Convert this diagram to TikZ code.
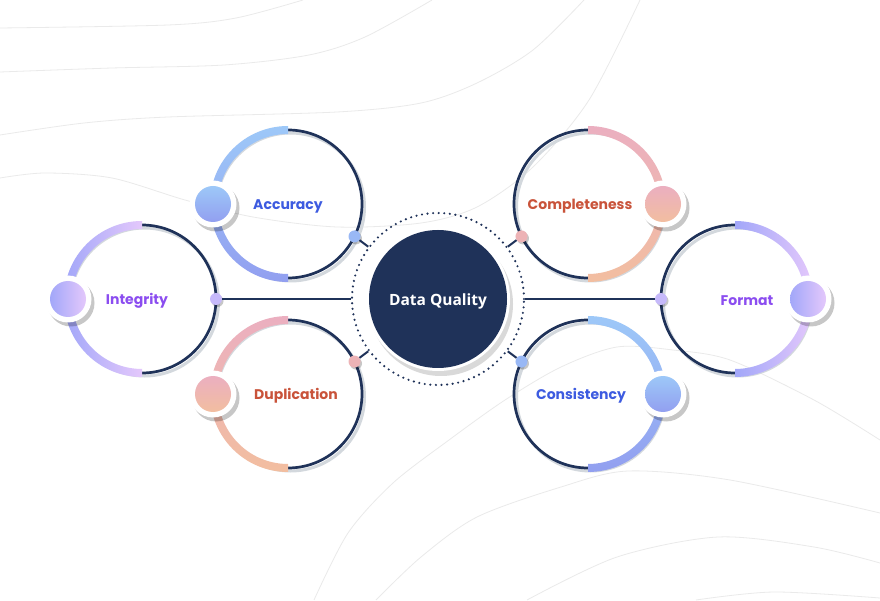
\documentclass[tikz,border=0pt]{standalone}
\usepackage{fontspec}
\newfontfamily\petalfont{Poppins}
\newfontfamily\hubfont{Open Sans}
\usepackage{tikz}
\usetikzlibrary{positioning,calc,shadows}

\definecolor{navy}{HTML}{1F3259}
\definecolor{ringgray}{HTML}{D3D8DD}
\definecolor{bgline}{HTML}{EAEAEA}
\definecolor{skyA}{HTML}{9DC8F8}
\definecolor{skyB}{HTML}{929FF0}
\definecolor{roseA}{HTML}{EBAFC0}
\definecolor{roseB}{HTML}{F2BEA0}
\definecolor{lilacA}{HTML}{A2A7F9}
\definecolor{lilacB}{HTML}{E4C8FB}
\definecolor{skytext}{HTML}{3D5BE0}
\definecolor{rosetext}{HTML}{C9533A}
\definecolor{lilactext}{HTML}{8B4DF0}

\begin{document}
\begin{tikzpicture}[
    x=1pt, y=1pt,
    bg/.style={draw=bgline, line width=0.8pt},
    petal/.style={draw=navy, line width=2.7pt},
    petalshadow/.style={draw=ringgray, line width=3pt},
    sky/.style={top color=skyA, bottom color=skyB},
    rose/.style={top color=roseA, bottom color=roseB},
    lilac/.style={left color=lilacA, right color=lilacB},
    halo/.style={circle, fill=white, minimum size=47pt, inner sep=0pt, drop shadow={shadow xshift=3pt, shadow yshift=-4pt, fill=black, opacity=0.22}},
    bubble/.style={circle, minimum size=36pt, inner sep=0pt},
    dot/.style={circle, minimum size=12pt, inner sep=0pt, drop shadow={shadow xshift=1.5pt, shadow yshift=-2pt, fill=black, opacity=0.22}},
    link/.style={draw=navy, line width=2pt},
    tag/.style={font=\petalfont\bfseries\fontsize{14}{16}\selectfont}
]
    \useasboundingbox (0,0) rectangle (880,600);
    \fill[white] (0,0) rectangle (880,600);

    % faint background waves
    \draw[bg] plot[smooth] coordinates {(0,572) (168,575) (236,582) (303,600)};
    \draw[bg] plot[smooth] coordinates {(0,528) (112,532) (224,535) (309,545) (365,563) (432,600)};
    \draw[bg] plot[smooth] coordinates {(0,465) (84,477) (168,483) (337,488) (421,497) (477,517) (533,550) (584,600)};
    \draw[bg] plot[smooth] coordinates {(0,422) (45,427) (112,422) (185,400) (253,383) (337,373) (421,377) (477,393) (533,433) (589,500) (640,600)};
    \draw[bg] plot[smooth] coordinates {(314,0) (348,67) (393,117) (449,160) (505,200) (561,233) (617,253) (673,250) (730,240) (814,200) (880,160)};
    \draw[bg] plot[smooth] coordinates {(376,0) (421,43) (477,83) (561,113) (628,129) (730,120) (880,87)};
    \draw[bg] plot[smooth] coordinates {(527,0) (617,43) (718,63) (814,53) (880,37)};
    \draw[bg] plot[smooth] coordinates {(696,0) (774,8) (880,2)};

    % petal centres
    \coordinate (int) at (142,301);
    \coordinate (acc) at (288,396);
    \coordinate (dup) at (288,206);
    \coordinate (com) at (588,396);
    \coordinate (con) at (588,206);
    \coordinate (fmt) at (735,301);

    % petal rings
    \foreach \c in {int,acc,dup,com,con,fmt}
        \draw[petalshadow] ([shift={(2.5,-3)}]\c) circle[radius=74];
    \foreach \c in {int,acc,dup,com,con,fmt}
        \draw[petal] (\c) circle[radius=74];

    % coloured half rings (bubble side)
    \shade[lilac] (int) ++(90:78) arc[start angle=90, end angle=270, radius=78] -- ++(0,8) arc[start angle=270, end angle=90, radius=70] -- cycle;
    \shade[sky] (acc) ++(90:78) arc[start angle=90, end angle=270, radius=78] -- ++(0,8) arc[start angle=270, end angle=90, radius=70] -- cycle;
    \shade[rose] (dup) ++(90:78) arc[start angle=90, end angle=270, radius=78] -- ++(0,8) arc[start angle=270, end angle=90, radius=70] -- cycle;
    \shade[rose] (com) ++(90:78) arc[start angle=90, end angle=-90, radius=78] -- ++(0,8) arc[start angle=-90, end angle=90, radius=70] -- cycle;
    \shade[sky] (con) ++(90:78) arc[start angle=90, end angle=-90, radius=78] -- ++(0,8) arc[start angle=-90, end angle=90, radius=70] -- cycle;
    \shade[lilac] (fmt) ++(90:78) arc[start angle=90, end angle=-90, radius=78] -- ++(0,8) arc[start angle=-90, end angle=90, radius=70] -- cycle;

    % bubbles
    \node[halo] (int-halo) at ($(int)+(180:74)$) {};
    \node[bubble, lilac] (int-bub) at (int-halo) {};
    \node[halo] (acc-halo) at ($(acc)+(180:75)$) {};
    \node[bubble, sky] (acc-bub) at (acc-halo) {};
    \node[halo] (dup-halo) at ($(dup)+(180:75)$) {};
    \node[bubble, rose] (dup-bub) at (dup-halo) {};
    \node[halo] (com-halo) at ($(com)+(0:75)$) {};
    \node[bubble, rose] (com-bub) at (com-halo) {};
    \node[halo] (con-halo) at ($(con)+(0:75)$) {};
    \node[bubble, sky] (con-bub) at (con-halo) {};
    \node[halo] (fmt-halo) at ($(fmt)+(0:73)$) {};
    \node[bubble, lilac] (fmt-bub) at (fmt-halo) {};

    % hub
    \node[circle, draw=navy, line width=2.4pt, dash pattern=on 0pt off 5.6pt, line cap=round, minimum size=172pt] (ring) at (438,301) {};
    \node[circle, fill=white, minimum size=144pt, drop shadow={shadow xshift=3pt, shadow yshift=-5pt, fill=black, opacity=0.15}] (hub-halo) at (ring) {};
    \node[circle, fill=navy, minimum size=138pt] (dq) at (ring) {};
    \node[text=white, font=\hubfont\bfseries\fontsize{15.5}{18}\selectfont] (dq-tag) at (438,299) {Data Quality};

    % connection dots
    \node[dot, fill=lilacA!45!lilacB] (int-dot) at ($(int)+(0:74)$) {};
    \node[dot, fill=skyA!60!skyB] (acc-dot) at ($(acc)+(-26:74)$) {};
    \node[dot, fill=roseA!70!roseB] (dup-dot) at ($(dup)+(26:74)$) {};
    \node[dot, fill=roseA!70!roseB] (com-dot) at ($(com)+(206:74)$) {};
    \node[dot, fill=skyA!60!skyB] (con-dot) at ($(con)+(154:74)$) {};
    \node[dot, fill=lilacA!45!lilacB] (fmt-dot) at ($(fmt)+(180:74)$) {};

    % links to the hub
    \draw[link] (int-dot) -- (ring);
    \draw[link] (acc-dot) -- (ring);
    \draw[link] (dup-dot) -- (ring);
    \draw[link] (com-dot) -- (ring);
    \draw[link] (con-dot) -- (ring);
    \draw[link] (fmt-dot) -- (ring);

    % labels
    \node[tag, text=lilactext] (int-tag) at (137,299) {Integrity};
    \node[tag, text=skytext] (acc-tag) at (288,394) {Accuracy};
    \node[tag, text=rosetext] (dup-tag) at (296,204) {Duplication};
    \node[tag, text=rosetext] (com-tag) at (580,394) {Completeness};
    \node[tag, text=skytext] (con-tag) at (581,204) {Consistency};
    \node[tag, text=lilactext] (fmt-tag) at (747,299) {Format};
\end{tikzpicture}
\end{document}
